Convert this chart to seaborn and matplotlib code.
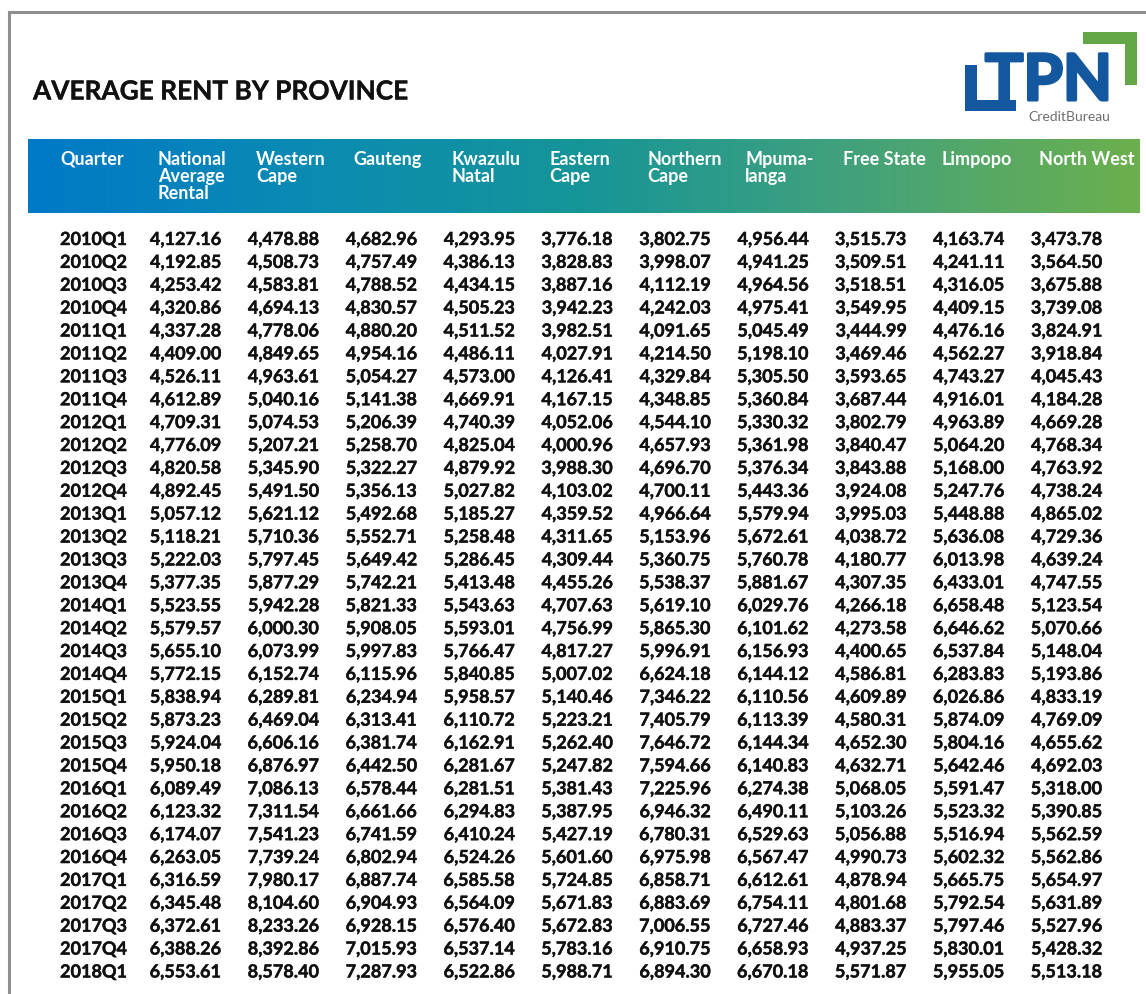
import numpy as np
import pandas as pd
import seaborn as sns
import matplotlib.pyplot as plt
import matplotlib.patheffects as pe
from matplotlib.patches import Rectangle

quarters = ["2010Q1", "2010Q2", "2010Q3", "2010Q4", "2011Q1", "2011Q2", "2011Q3", "2011Q4",
            "2012Q1", "2012Q2", "2012Q3", "2012Q4", "2013Q1", "2013Q2", "2013Q3", "2013Q4",
            "2014Q1", "2014Q2", "2014Q3", "2014Q4", "2015Q1", "2015Q2", "2015Q3", "2015Q4",
            "2016Q1", "2016Q2", "2016Q3", "2016Q4", "2017Q1", "2017Q2", "2017Q3", "2017Q4",
            "2018Q1"]

national = [4127.16, 4192.85, 4253.42, 4320.86, 4337.28, 4409.00, 4526.11, 4612.89,
            4709.31, 4776.09, 4820.58, 4892.45, 5057.12, 5118.21, 5222.03, 5377.35,
            5523.55, 5579.57, 5655.10, 5772.15, 5838.94, 5873.23, 5924.04, 5950.18,
            6089.49, 6123.32, 6174.07, 6263.05, 6316.59, 6345.48, 6372.61, 6388.26,
            6553.61]
western_cape = [4478.88, 4508.73, 4583.81, 4694.13, 4778.06, 4849.65, 4963.61, 5040.16,
                5074.53, 5207.21, 5345.90, 5491.50, 5621.12, 5710.36, 5797.45, 5877.29,
                5942.28, 6000.30, 6073.99, 6152.74, 6289.81, 6469.04, 6606.16, 6876.97,
                7086.13, 7311.54, 7541.23, 7739.24, 7980.17, 8104.60, 8233.26, 8392.86,
                8578.40]
gauteng = [4682.96, 4757.49, 4788.52, 4830.57, 4880.20, 4954.16, 5054.27, 5141.38,
           5206.39, 5258.70, 5322.27, 5356.13, 5492.68, 5552.71, 5649.42, 5742.21,
           5821.33, 5908.05, 5997.83, 6115.96, 6234.94, 6313.41, 6381.74, 6442.50,
           6578.44, 6661.66, 6741.59, 6802.94, 6887.74, 6904.93, 6928.15, 7015.93,
           7287.93]
kwazulu_natal = [4293.95, 4386.13, 4434.15, 4505.23, 4511.52, 4486.11, 4573.00, 4669.91,
                 4740.39, 4825.04, 4879.92, 5027.82, 5185.27, 5258.48, 5286.45, 5413.48,
                 5543.63, 5593.01, 5766.47, 5840.85, 5958.57, 6110.72, 6162.91, 6281.67,
                 6281.51, 6294.83, 6410.24, 6524.26, 6585.58, 6564.09, 6576.40, 6537.14,
                 6522.86]
eastern_cape = [3776.18, 3828.83, 3887.16, 3942.23, 3982.51, 4027.91, 4126.41, 4167.15,
                4052.06, 4000.96, 3988.30, 4103.02, 4359.52, 4311.65, 4309.44, 4455.26,
                4707.63, 4756.99, 4817.27, 5007.02, 5140.46, 5223.21, 5262.40, 5247.82,
                5381.43, 5387.95, 5427.19, 5601.60, 5724.85, 5671.83, 5672.83, 5783.16,
                5988.71]
northern_cape = [3802.75, 3998.07, 4112.19, 4242.03, 4091.65, 4214.50, 4329.84, 4348.85,
                 4544.10, 4657.93, 4696.70, 4700.11, 4966.64, 5153.96, 5360.75, 5538.37,
                 5619.10, 5865.30, 5996.91, 6624.18, 7346.22, 7405.79, 7646.72, 7594.66,
                 7225.96, 6946.32, 6780.31, 6975.98, 6858.71, 6883.69, 7006.55, 6910.75,
                 6894.30]
mpumalanga = [4956.44, 4941.25, 4964.56, 4975.41, 5045.49, 5198.10, 5305.50, 5360.84,
              5330.32, 5361.98, 5376.34, 5443.36, 5579.94, 5672.61, 5760.78, 5881.67,
              6029.76, 6101.62, 6156.93, 6144.12, 6110.56, 6113.39, 6144.34, 6140.83,
              6274.38, 6490.11, 6529.63, 6567.47, 6612.61, 6754.11, 6727.46, 6658.93,
              6670.18]
free_state = [3515.73, 3509.51, 3518.51, 3549.95, 3444.99, 3469.46, 3593.65, 3687.44,
              3802.79, 3840.47, 3843.88, 3924.08, 3995.03, 4038.72, 4180.77, 4307.35,
              4266.18, 4273.58, 4400.65, 4586.81, 4609.89, 4580.31, 4652.30, 4632.71,
              5068.05, 5103.26, 5056.88, 4990.73, 4878.94, 4801.68, 4883.37, 4937.25,
              5571.87]
limpopo = [4163.74, 4241.11, 4316.05, 4409.15, 4476.16, 4562.27, 4743.27, 4916.01,
           4963.89, 5064.20, 5168.00, 5247.76, 5448.88, 5636.08, 6013.98, 6433.01,
           6658.48, 6646.62, 6537.84, 6283.83, 6026.86, 5874.09, 5804.16, 5642.46,
           5591.47, 5523.32, 5516.94, 5602.32, 5665.75, 5792.54, 5797.46, 5830.01,
           5955.05]
north_west = [3473.78, 3564.50, 3675.88, 3739.08, 3824.91, 3918.84, 4045.43, 4184.28,
              4669.28, 4768.34, 4763.92, 4738.24, 4865.02, 4729.36, 4639.24, 4747.55,
              5123.54, 5070.66, 5148.04, 5193.86, 4833.19, 4769.09, 4655.62, 4692.03,
              5318.00, 5390.85, 5562.59, 5562.86, 5654.97, 5631.89, 5527.96, 5428.32,
              5513.18]

headers = ["Quarter", "National\nAverage\nRental", "Western\nCape", "Gauteng",
           "Kwazulu\nNatal", "Eastern\nCape", "Northern\nCape", "Mpuma-\nlanga",
           "Free State", "Limpopo", "North West"]

rent = pd.DataFrame({
    "National": national, "Western Cape": western_cape, "Gauteng": gauteng,
    "Kwazulu Natal": kwazulu_natal, "Eastern Cape": eastern_cape,
    "Northern Cape": northern_cape, "Mpumalanga": mpumalanga,
    "Free State": free_state, "Limpopo": limpopo, "North West": north_west,
}, index=quarters)

sns.set_theme(style="white")
plt.rcParams['font.family'] = ['Lato', 'DejaVu Sans']

W, H = 1146, 994
fig = plt.figure(figsize=(W / 100, H / 100), dpi=100)
fig.patch.set_facecolor("white")

# page decoration, in pixel units
bg = fig.add_axes([0, 0, 1, 1])
bg.axis("off")

band_cmap = sns.blend_palette(["#0079c7", "#0a8bb2", "#169598", "#44a27a", "#6cb04d"], as_cmap=True)
bg.imshow(np.linspace(0, 1, 512)[None, :], cmap=band_cmap, aspect="auto",
          extent=(28, 1140, 213, 139), zorder=1)
bg.plot([9, 9, W], [H, 11.5, 11.5], color="#8f8f8f", lw=2.2, solid_joinstyle="miter")
bg.set_xlim(0, W)
bg.set_ylim(H, 0)

ink = "#111111"
bg.text(33, 99.5, "AVERAGE RENT BY PROVINCE", fontsize=18.9, fontweight="bold",
        color=ink, va="baseline", ha="left",
        path_effects=[pe.withStroke(linewidth=0.2, foreground=ink)])

# TPN logo
blue, green = "#13589e", "#62a646"
bg.add_patch(Rectangle((965, 65), 12, 45.7, color=blue, lw=0))
bg.add_patch(Rectangle((965, 100), 51, 10.7, color=blue, lw=0))
bg.add_patch(Rectangle((1083, 32), 54, 12, color=green, lw=0))
bg.add_patch(Rectangle((1125, 32), 12, 53, color=green, lw=0))
bg.text(985, 100, "TPN", fontsize=46, fontweight="bold", color=blue, va="baseline", ha="left",
        path_effects=[pe.withStroke(linewidth=2.2, foreground=blue)])
bg.text(1028, 121, "CreditBureau", fontsize=10, color="#6d6d6d", va="baseline", ha="left")

# table: x in column units (value right edges at 0..9), y in row units (baselines)
col_px, col0_px = 97.9, 221
row_px, row0_px = 22.89, 245
tab = fig.add_axes([0, 0, 1, 1])
tab.patch.set_alpha(0)
tab.axis("off")
tab.set_xlim(-col0_px / col_px, (W - col0_px) / col_px)
tab.set_ylim((H - row0_px) / row_px, -row0_px / row_px)

head_r = (165 - row0_px) / row_px
line_step = 17 / row_px
for c, h in enumerate(headers):
    for k, line in enumerate(h.split("\n")):
        tab.text(c - 1 - 0.644, head_r + k * line_step, line, color="white",
                 fontsize=13, fontweight="bold", ha="left", va="baseline", zorder=3)

body_fx = [pe.withStroke(linewidth=0.3, foreground=ink)]
for r, q in enumerate(rent.index):
    tab.text(-1.644, r, q, fontsize=13, fontweight="bold", color=ink,
             ha="left", va="baseline", path_effects=body_fx)
    for c, v in enumerate(rent.loc[q]):
        tab.text(c, r, f"{v:,.2f}", fontsize=13, fontweight="bold", color=ink,
                 ha="right", va="baseline", path_effects=body_fx)

fig.savefig("out.png", dpi=100, facecolor="white")
